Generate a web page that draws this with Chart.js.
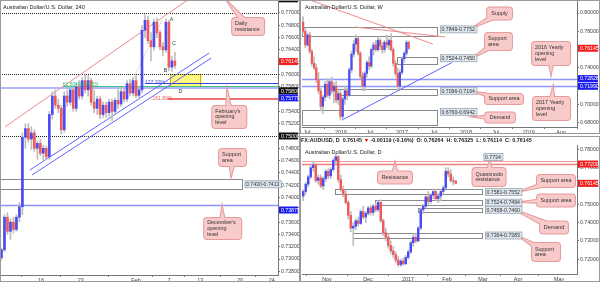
<!DOCTYPE html>
<html><head><meta charset="utf-8">
<script src="https://cdn.jsdelivr.net/npm/chart.js@4.4.1/dist/chart.umd.min.js"></script>
<style>
html,body{margin:0;padding:0;background:#fff;}
body{width:600px;height:282px;position:relative;overflow:hidden;font-family:"Liberation Sans",Arial,sans-serif;}
canvas{position:absolute;}
.frame{position:absolute;border:1px solid #9a9a9a;box-sizing:border-box;pointer-events:none;}
#hdr{position:absolute;left:301px;top:136px;font-size:5.4px;font-weight:bold;color:#222;white-space:nowrap;line-height:8px;}
</style></head>
<body>
<canvas id="c240" width="299" height="282" style="left:0;top:0"></canvas>
<canvas id="cW" width="299" height="133" style="left:300px;top:0"></canvas>
<canvas id="cD" width="299" height="137" style="left:300px;top:145px"></canvas>
<div class="frame" style="left:0;top:0;width:300px;height:282px"></div>
<div class="frame" style="left:300px;top:0;width:300px;height:134px"></div>
<div class="frame" style="left:300px;top:136px;width:300px;height:146px"></div>
<div id="hdr">FX:AUDUSD, D&nbsp; 0.76145 <span style="color:#d00">&#9660;</span> -0.00119 (-0.16%)&nbsp; O: 0.76264&nbsp; H: 0.76325&nbsp; L: 0.76114&nbsp; C: 0.76145</div>
<script>
// ---------------- DATA ----------------
// H4 candles
const h4Open  = [0.7302,0.7315,0.7368,0.7345,0.7360,0.7348,0.7368,0.7385,0.7498,0.7512,0.7495,0.7505,0.7480,0.7488,0.7472,0.7480,0.7466,0.7535,0.7565,0.7550,0.7545,0.7510,0.7565,0.7555,0.7575,0.7545,0.7580,0.7565,0.7590,0.7575,0.7590,0.7555,0.7545,0.7560,0.7535,0.7550,0.7538,0.7555,0.7540,0.7558,0.7552,0.7572,0.7560,0.7585,0.7570,0.7590,0.7566,0.7575,0.7672,0.7688,0.7655,0.7645,0.7685,0.7668,0.7645,0.7640,0.7685,0.7612,0.7622];
const h4High  = [0.7318,0.7372,0.7375,0.7365,0.7368,0.7372,0.7392,0.7505,0.7520,0.7520,0.7515,0.7510,0.7492,0.7495,0.7485,0.7484,0.7540,0.7572,0.7575,0.7560,0.7550,0.7572,0.7575,0.7580,0.7578,0.7585,0.7590,0.7595,0.7600,0.7598,0.7594,0.7575,0.7565,0.7565,0.7555,0.7555,0.7560,0.7560,0.7562,0.7575,0.7578,0.7580,0.7590,0.7592,0.7595,0.7598,0.7580,0.7680,0.7697,0.7695,0.7668,0.7690,0.7692,0.7672,0.7652,0.7690,0.7688,0.7630,0.7636];
const h4Low   = [0.7298,0.7312,0.7340,0.7332,0.7342,0.7345,0.7360,0.7372,0.7480,0.7490,0.7478,0.7475,0.7462,0.7468,0.7460,0.7463,0.7462,0.7528,0.7545,0.7538,0.7503,0.7506,0.7548,0.7550,0.7540,0.7540,0.7560,0.7560,0.7570,0.7565,0.7550,0.7538,0.7535,0.7528,0.7530,0.7530,0.7532,0.7525,0.7535,0.7545,0.7548,0.7555,0.7556,0.7565,0.7565,0.7562,0.7560,0.7570,0.7660,0.7650,0.7622,0.7640,0.7660,0.7640,0.7630,0.7636,0.7606,0.7605,0.7610];
const h4Close = [0.7315,0.7368,0.7345,0.7360,0.7348,0.7368,0.7385,0.7498,0.7512,0.7495,0.7505,0.7480,0.7488,0.7472,0.7480,0.7466,0.7535,0.7565,0.7550,0.7545,0.7510,0.7565,0.7555,0.7575,0.7545,0.7580,0.7565,0.7590,0.7575,0.7590,0.7555,0.7545,0.7560,0.7535,0.7550,0.7538,0.7555,0.7540,0.7558,0.7552,0.7572,0.7560,0.7585,0.7570,0.7590,0.7566,0.7575,0.7672,0.7688,0.7655,0.7645,0.7685,0.7668,0.7645,0.7640,0.7685,0.7612,0.7622,0.76145];
const h4XTickPos = [13.2,26.5,45,56,66.5,79.8,90.4];
const h4XTickLbl = ['16','23','Feb','7','13','20','24'];
const h4YTicks = [0.770,0.768,0.766,0.764,0.762,0.760,0.758,0.756,0.754,0.752,0.750,0.748,0.746,0.744,0.742,0.740,0.738,0.736,0.734,0.732,0.730,0.728];

// Weekly candles
const wOpen  = [0.7900,0.7800,0.7650,0.7760,0.7580,0.7450,0.7400,0.7270,0.7150,0.6980,0.7080,0.7220,0.7100,0.7250,0.7150,0.7200,0.7050,0.7120,0.6870,0.7060,0.7150,0.7100,0.7380,0.7550,0.7660,0.7720,0.7560,0.7310,0.7200,0.7340,0.7460,0.7420,0.7600,0.7650,0.7600,0.7700,0.7640,0.7600,0.7680,0.7650,0.7700,0.7600,0.7450,0.7340,0.7200,0.7350,0.7500,0.7560,0.7680];
const wHigh  = [0.7960,0.7830,0.7780,0.7790,0.7600,0.7520,0.7440,0.7350,0.7180,0.7100,0.7250,0.7280,0.7280,0.7300,0.7240,0.7250,0.7150,0.7160,0.7080,0.7200,0.7180,0.7400,0.7580,0.7700,0.7760,0.7740,0.7580,0.7350,0.7360,0.7480,0.7520,0.7620,0.7680,0.7700,0.7740,0.7720,0.7680,0.7700,0.7760,0.7720,0.7775,0.7620,0.7480,0.7400,0.7380,0.7520,0.7580,0.7700,0.7690];
const wLow   = [0.7780,0.7620,0.7640,0.7560,0.7420,0.7380,0.7240,0.7120,0.6930,0.6900,0.7040,0.7080,0.7060,0.7120,0.7020,0.7020,0.7000,0.6830,0.6840,0.7000,0.7050,0.7090,0.7350,0.7520,0.7580,0.7540,0.7280,0.7150,0.7150,0.7300,0.7380,0.7400,0.7540,0.7580,0.7580,0.7600,0.7560,0.7570,0.7620,0.7600,0.7580,0.7420,0.7310,0.7160,0.7170,0.7330,0.7460,0.7540,0.7600];
const wClose = [0.7800,0.7650,0.7760,0.7580,0.7450,0.7400,0.7270,0.7150,0.6980,0.7080,0.7220,0.7100,0.7250,0.7150,0.7200,0.7050,0.7120,0.6870,0.7060,0.7150,0.7100,0.7380,0.7550,0.7660,0.7720,0.7560,0.7310,0.7200,0.7340,0.7460,0.7420,0.7600,0.7650,0.7600,0.7700,0.7640,0.7600,0.7680,0.7650,0.7700,0.7600,0.7450,0.7340,0.7200,0.7350,0.7500,0.7560,0.7680,0.76145];
const wXTickPos = [1.8,17.2,30.4,45,59.5,74,87.6,102.6,117.2];
const wXTickLbl = ['Jul','2016','Jul','2017','Jul','2018','Jul','2019','Aug'];
const wYTicks = [0.80,0.78,0.76,0.74,0.72,0.70,0.68];

// Daily candles
const dOpen  = [0.7545,0.7570,0.7610,0.7650,0.7700,0.7715,0.7630,0.7645,0.7600,0.7640,0.7680,0.7655,0.7690,0.7740,0.7760,0.7635,0.7580,0.7555,0.7510,0.7440,0.7370,0.7380,0.7410,0.7395,0.7460,0.7430,0.7450,0.7480,0.7455,0.7490,0.7470,0.7510,0.7410,0.7345,0.7320,0.7275,0.7245,0.7225,0.7195,0.7170,0.7190,0.7175,0.7210,0.7240,0.7290,0.7320,0.7300,0.7370,0.7470,0.7490,0.7540,0.7515,0.7550,0.7570,0.7530,0.7545,0.7570,0.7590,0.7680,0.7665,0.7630,0.7626];
const dHigh  = [0.7580,0.7620,0.7660,0.7720,0.7735,0.7725,0.7660,0.7660,0.7650,0.7690,0.7695,0.7700,0.7750,0.7775,0.7765,0.7660,0.7600,0.7580,0.7520,0.7460,0.7400,0.7420,0.7430,0.7470,0.7490,0.7460,0.7490,0.7495,0.7500,0.7510,0.7520,0.7525,0.7420,0.7370,0.7340,0.7300,0.7270,0.7240,0.7215,0.7200,0.7205,0.7220,0.7250,0.7300,0.7340,0.7340,0.7380,0.7480,0.7500,0.7550,0.7570,0.7560,0.7585,0.7580,0.7560,0.7580,0.7600,0.7700,0.7700,0.7690,0.7650,0.7632];
const dLow   = [0.7520,0.7555,0.7595,0.7640,0.7680,0.7620,0.7610,0.7590,0.7580,0.7625,0.7640,0.7640,0.7680,0.7720,0.7620,0.7570,0.7540,0.7500,0.7420,0.7350,0.7275,0.7360,0.7380,0.7390,0.7420,0.7400,0.7440,0.7440,0.7440,0.7460,0.7460,0.7400,0.7330,0.7300,0.7260,0.7230,0.7210,0.7180,0.7160,0.7160,0.7165,0.7170,0.7200,0.7230,0.7270,0.7290,0.7295,0.7360,0.7450,0.7480,0.7500,0.7505,0.7530,0.7520,0.7510,0.7520,0.7555,0.7585,0.7650,0.7620,0.7605,0.7611];
const dClose = [0.7570,0.7610,0.7650,0.7700,0.7715,0.7630,0.7645,0.7600,0.7640,0.7680,0.7655,0.7690,0.7740,0.7760,0.7635,0.7580,0.7555,0.7510,0.7440,0.7370,0.7380,0.7410,0.7395,0.7460,0.7430,0.7450,0.7480,0.7455,0.7490,0.7470,0.7510,0.7410,0.7345,0.7320,0.7275,0.7245,0.7225,0.7195,0.7170,0.7190,0.7175,0.7210,0.7240,0.7290,0.7320,0.7300,0.7370,0.7470,0.7490,0.7540,0.7515,0.7550,0.7570,0.7530,0.7545,0.7570,0.7590,0.7680,0.7665,0.7630,0.7626,0.76145];
const dXTickPos = [9.5,25.9,41.9,57.5,71.9,85.9,102.3];
const dXTickLbl = ['Nov','Dec','2017','Feb','Mar','Apr','May'];
const dYTicks = [0.78,0.77,0.76,0.75,0.74,0.73,0.72];

// Levels
const h4Dotted = [0.7700,0.7600,0.7500];
const h4FebOpen = 0.75779, h4DecOpen = 0.73879;
const h4Fib = [0.7582,0.7586,0.7560];        // 61.8%, 127.2%, 161.8%
const h4Zone = [0.7600,0.7579];
const h4Support = [0.7430,0.7413];
const wSupply = [0.7849,0.7752], wSupport1 = [0.7524,0.7450], wSupport2 = [0.7164,0.7096], wDemand = [0.6942,0.6776];
const wYearOpen = [0.72828,0.71990];
const dRes = [0.7734,0.7720];
const dZones = [[0.7581,0.7552],[0.7524,0.7494],[0.7482,0.7462],[0.7343,0.7316]];
const lastPrice = 0.76145;

// ---------------- RENDER ----------------
Chart.defaults.font.family = '"Liberation Sans", Arial, sans-serif';
Chart.defaults.font.size = 5.4;
Chart.defaults.color = '#555';
Chart.defaults.animation = false;

const SPECS = {};
const PX = (c,v)=>c.scales.x.getPixelForValue(v);
const PY = (c,v)=>c.scales.y.getPixelForValue(v);

function drawCallout(ctx, c, s){
  const X = PX(c,s.cx), Y = PY(c,s.cy), TX = PX(c,s.tx), TY = PY(c,s.ty);
  const x0 = X - s.w/2, y0 = Y - s.h/2;
  const dx = TX-X, dy = TY-Y, len = Math.hypot(dx,dy)||1;
  const nx = -dy/len, ny = dx/len, bw = 3;
  const k = Math.min(s.w,s.h)*0.25;
  const bx = X + dx/len*k, by = Y + dy/len*k;
  const tri = ()=>{ctx.beginPath();ctx.moveTo(bx+nx*bw,by+ny*bw);ctx.lineTo(TX,TY);ctx.lineTo(bx-nx*bw,by-ny*bw);ctx.closePath();};
  const box = ()=>{ctx.beginPath(); if(ctx.roundRect) ctx.roundRect(x0,y0,s.w,s.h,3); else ctx.rect(x0,y0,s.w,s.h);};
  ctx.lineWidth = 2; ctx.strokeStyle = '#e69a9a';
  tri(); ctx.stroke(); box(); ctx.stroke();
  ctx.fillStyle = '#f8caca';
  tri(); ctx.fill(); box(); ctx.fill();
  ctx.fillStyle = '#333'; ctx.font = '5.4px "Liberation Sans", Arial, sans-serif';
  ctx.textBaseline = 'middle';
  const lh = 5.6, n = s.lines.length;
  s.lines.forEach((t,i)=>{
    const yy = Y + (i-(n-1)/2)*lh;
    if(s.center){ctx.textAlign='center'; ctx.fillText(t, X, yy);} else {ctx.textAlign='left'; ctx.fillText(t, x0+3, yy);}
  });
}

const overlay = {
  id:'overlay',
  beforeDatasetsDraw(chart){
    const s = SPECS[chart.canvas.id]; if(!s) return;
    const ctx = chart.ctx, a = chart.chartArea;
    ctx.save(); ctx.beginPath(); ctx.rect(a.left,a.top,a.right-a.left,a.bottom-a.top); ctx.clip();
    (s.boxes||[]).forEach(b=>{
      const x0 = b.x0==null?a.left:PX(chart,b.x0), x1 = b.x1==null?a.right:PX(chart,b.x1);
      const ya = PY(chart,b.y0), yb = PY(chart,b.y1);
      const top = Math.round(Math.min(ya,yb)), h = Math.max(1,Math.round(Math.abs(yb-ya)));
      if(b.fill){ctx.fillStyle=b.fill; ctx.fillRect(x0,top,x1-x0,h);}
      if(b.stroke){ctx.strokeStyle=b.stroke; ctx.lineWidth=1; ctx.strokeRect(Math.round(x0)+0.5,top+0.5,Math.round(x1-x0)-1,h);}
    });
    (s.lines||[]).forEach(l=>{
      const x0 = l.x0==null?a.left:PX(chart,l.x0), x1 = l.x1==null?a.right:PX(chart,l.x1);
      let y0 = PY(chart,l.y0), y1 = PY(chart,l.y1==null?l.y0:l.y1);
      if(l.y1==null){y0 = Math.round(y0)+ (l.w%2?0.5:0); y1=y0;}
      ctx.beginPath(); ctx.strokeStyle=l.color; ctx.lineWidth=l.w||1; ctx.setLineDash(l.dash||[]);
      ctx.moveTo(x0,y0); ctx.lineTo(x1,y1); ctx.stroke();
    });
    ctx.setLineDash([]);
    ctx.restore();
  },
  afterDatasetsDraw(chart){
    const s = SPECS[chart.canvas.id]; if(!s) return;
    const ctx = chart.ctx, a = chart.chartArea;
    ctx.save();
    (s.texts||[]).forEach(t=>{
      ctx.font = (t.bold?'bold ':'')+(t.size||5.4)+'px "Liberation Sans", Arial, sans-serif';
      ctx.fillStyle = t.color||'#333'; ctx.textAlign = t.align||'left'; ctx.textBaseline='middle';
      ctx.fillText(t.text, PX(chart,t.x), PY(chart,t.y));
    });
    // title
    ctx.font = '5.6px "Liberation Sans", Arial, sans-serif'; ctx.fillStyle='#222'; ctx.textAlign='left'; ctx.textBaseline='middle';
    ctx.fillText(s.title, a.left+3, a.top+7);
    (s.callouts||[]).forEach(c=>drawCallout(ctx,chart,c));
    // box labels (value tags)
    (s.tags||[]).forEach(t=>{
      ctx.font = '5.2px "Liberation Sans", Arial, sans-serif';
      const x = PX(chart,t.x), y = PY(chart,t.y), w = ctx.measureText(t.text).width+3;
      ctx.fillStyle='#dde5ee'; ctx.fillRect(x, y-3.5, w, 7);
      ctx.strokeStyle='#9aa6b4'; ctx.lineWidth=0.8; ctx.strokeRect(x+0.5, y-3.5, w, 7);
      ctx.fillStyle='#333'; ctx.textAlign='left'; ctx.textBaseline='middle'; ctx.fillText(t.text, x+1.5, y+0.3);
    });
    // axis price labels
    (s.axisTags||[]).forEach(t=>{
      const y = PY(chart,t.at);
      ctx.fillStyle = t.bg; ctx.fillRect(a.right+1, y-3.5, chart.width-a.right-2, 7);
      ctx.font = '5.2px "Liberation Sans", Arial, sans-serif';
      ctx.fillStyle = '#fff'; ctx.textAlign='left'; ctx.textBaseline='middle';
      ctx.fillText(t.text, a.right+3, y+0.3);
    });
    ctx.restore();
  }
};
Chart.register(overlay);

function candleSets(o,h,l,c,bodyW){
  const wick = o.map((_,i)=>({x:i, y:[l[i],h[i]]}));
  const body = o.map((_,i)=>({x:i, y:[o[i],c[i]]}));
  const col = o.map((_,i)=> c[i]>=o[i] ? '#4b4bf2' : '#ef5a5a');
  return [
    {type:'bar', data:wick, backgroundColor:'#bdbdbd', barThickness:1, grouped:false, order:2},
    {type:'bar', data:body, backgroundColor:col, barThickness:bodyW, grouped:false, order:1}
  ];
}

function makeChart(id, sets, xr, yr, xPos, xLbl, yTicks, yDec, yW, xH, padL){
  return new Chart(document.getElementById(id), {
    type:'bar',
    data:{datasets:sets},
    options:{
      responsive:false, devicePixelRatio:1, animation:false,
      layout:{padding:{left:padL,right:0,top:0,bottom:0}},
      plugins:{legend:{display:false}, tooltip:{enabled:false}},
      scales:{
        x:{type:'linear', min:xr[0], max:xr[1], offset:false,
          grid:{drawOnChartArea:false, drawTicks:true, tickLength:2, color:'#777'},
          border:{display:true, color:'#777'},
          afterBuildTicks:sc=>{sc.ticks = xPos.map(v=>({value:v}));},
          afterFit:sc=>{sc.height = xH; sc.paddingLeft=0; sc.paddingRight=0;},
          ticks:{autoSkip:false, maxRotation:0, padding:0, color:'#444', font:{size:5.4},
            callback:(v,i)=>xLbl[i]}},
        y:{type:'linear', position:'right', min:yr[0], max:yr[1],
          grid:{drawOnChartArea:false, drawTicks:true, tickLength:2, color:'#777'},
          border:{display:true, color:'#777'},
          afterBuildTicks:sc=>{sc.ticks = yTicks.map(v=>({value:v}));},
          afterFit:sc=>{sc.width = yW; sc.paddingTop=0; sc.paddingBottom=0;},
          ticks:{padding:1, color:'#444', font:{size:5.2}, callback:v=>v.toFixed(yDec)}}
      }
    }
  });
}

// ----- H4 panel specs -----
SPECS.c240 = {
  title:'Australian Dollar/U.S. Dollar, 240',
  boxes:[
    {x0:-0.5, x1:80.8, y0:h4Support[0], y1:h4Support[1], stroke:'#8a8a8a', fill:'rgba(255,255,255,0.6)'},
    {x0:56.5, x1:67, y0:h4Zone[0], y1:h4Zone[1], stroke:'#cdb700', fill:'#fdf77c'}
  ],
  lines:[
    {y0:h4Dotted[0], color:'#222', w:1, dash:[1,1]},
    {y0:h4Dotted[1], color:'#222', w:1, dash:[1,1]},
    {y0:h4Dotted[2], color:'#222', w:1, dash:[1,1]},
    {y0:h4FebOpen, color:'#b3b8fb', w:2},
    {y0:h4DecOpen, color:'#8c95ff', w:1.5},
    {x0:20.5, y0:h4Fib[0], color:'#3cc77a', w:1},
    {x0:48, y0:h4Fib[1], color:'#3b46d6', w:1},
    {x0:55.5, y0:h4Fib[2], color:'#ea7272', w:2},
    {x0:1.2, y0:0.7515, x1:64, y1:0.7727, color:'#f08a8a', w:1},
    {x0:9.5, y0:0.74447, x1:69.5, y1:0.7635, color:'#6262ff', w:1},
    {x0:10.2, y0:0.74366, x1:70.2, y1:0.76268, color:'#6262ff', w:1},
    {x0:43.8, y0:0.7591, x1:53.8, y1:0.7689, color:'#999', w:0.8, dash:[1,1.5]}
  ],
  texts:[
    {x:20.5, y:0.75835, text:'61.80%(0.7583)', color:'#35c07a', size:5},
    {x:48, y:0.7587, text:'127.20%', color:'#3b46d6', size:5},
    {x:50.5, y:0.7561, text:'161.80%', color:'#e35b5b', size:5},
    {x:56.3, y:0.7690, text:'A', color:'#333', size:5.4},
    {x:54.3, y:0.7607, text:'B', color:'#333', size:5.4},
    {x:57.0, y:0.7651, text:'C', color:'#333', size:5.4},
    {x:59.2, y:0.7573, text:'D', color:'#333', size:5.4}
  ],
  callouts:[
    {cx:82.5, cy:0.7678, w:32, h:17, tx:75.2, ty:0.7721, lines:['Daily','resistance']},
    {cx:76.2, cy:0.75309, w:34, h:22, tx:75.5, ty:0.75748, lines:["February's",'opening','level']},
    {cx:77.3, cy:0.7465, w:27, h:17, tx:76.8, ty:0.7435, lines:['Support','area']},
    {cx:74.0, cy:0.73496, w:37, h:21, tx:73.8, ty:0.73846, lines:["December's",'opening','level']}
  ],
  tags:[{x:81.3, y:0.74215, text:'0.7430-0.7413'}],
  axisTags:[
    {at:0.7723, text:'0.77200', bg:'#111'},
    {at:0.7621, text:'0.76145', bg:'#f21d1d'},
    {at:0.75735, text:'0.75800', bg:'#111'},
    {at:0.75620, text:'0.75779', bg:'#1b1bf0'},
    {at:0.7500, text:'0.75000', bg:'#111'},
    {at:0.73797, text:'0.73879', bg:'#1b1bf0'}
  ]
};
makeChart('c240', candleSets(h4Open,h4High,h4Low,h4Close,2), [-0.5,92.5], [0.7274,0.77211],
  h4XTickPos, h4XTickLbl, h4YTicks, 5, 21, 7, 0);

// ----- Weekly panel specs -----
SPECS.cW = {
  title:'Australian Dollar/U.S. Dollar, W',
  boxes:[
    {x0:-0.5, x1:61.3, y0:wSupply[0], y1:wSupply[1], stroke:'#8a8a8a'},
    {x0:42.7, x1:61.3, y0:wSupport1[0], y1:wSupport1[1], stroke:'#8a8a8a'},
    {x0:13.6, x1:61.3, y0:wSupport2[0], y1:wSupport2[1], stroke:'#8a8a8a'},
    {x0:-0.5, x1:61.3, y0:wDemand[0], y1:wDemand[1], stroke:'#8a8a8a'}
  ],
  lines:[
    {y0:wYearOpen[0], color:'#8c95ff', w:1.5},
    {y0:wYearOpen[1], color:'#8c95ff', w:1.5},
    {x0:3.1, y0:0.8142, x1:59, y1:0.7661, color:'#f08a8a', w:1},
    {x0:23.6, y0:0.7847, x1:64.5, y1:0.7738, color:'#f08a8a', w:1},
    {x0:17.7, y0:0.68306, x1:67.7, y1:0.7459, color:'#6262ff', w:1}
  ],
  texts:[],
  callouts:[
    {cx:89.3, cy:0.79945, w:25, h:12, tx:77.7, ty:0.7847, lines:['Supply'], center:true},
    {cx:88.8, cy:0.76885, w:27, h:17, tx:77.7, ty:0.7519, lines:['Support','area']},
    {cx:112.7, cy:0.75574, w:38, h:23, tx:112.7, ty:0.7333, lines:['2016 Yearly','opening','level']},
    {cx:112.9, cy:0.69563, w:37, h:23, tx:113.6, ty:0.71913, lines:['2017 Yearly','opening','level']},
    {cx:91.3, cy:0.7060, w:38, h:10, tx:77.7, ty:0.71366, lines:['Support area'], center:true},
    {cx:89.5, cy:0.68579, w:30, h:10, tx:77.7, ty:0.68634, lines:['Demand'], center:true}
  ],
  tags:[
    {x:62.2, y:0.7821, text:'0.7849-0.7752'},
    {x:62.2, y:0.7506, text:'0.7524-0.7450'},
    {x:62.2, y:0.7150, text:'0.7096-0.7164'},
    {x:62.2, y:0.6920, text:'0.6760-0.6942'}
  ],
  axisTags:[
    {at:lastPrice, text:'0.76145', bg:'#f21d1d'},
    {at:wYearOpen[0], text:'0.72828', bg:'#1b1bf0'},
    {at:wYearOpen[1], text:'0.71990', bg:'#1b1bf0'}
  ]
};
makeChart('cW', candleSets(wOpen,wHigh,wLow,wClose,1.6), [-0.5,124.5], [0.67541,0.81421],
  wXTickPos, wXTickLbl, wYTicks, 5, 22, 6, 2);

// ----- Daily panel specs -----
SPECS.cD = {
  title:'Australian Dollar/U.S. Dollar, D',
  boxes:[
    {x0:12.7, x1:71.9, y0:dZones[0][0], y1:dZones[0][1], stroke:'#8a8a8a'},
    {x0:28.7, x1:71.9, y0:dZones[1][0], y1:dZones[1][1], stroke:'#8a8a8a'},
    {x0:45.9, x1:71.9, y0:dZones[2][0], y1:dZones[2][1], stroke:'#8a8a8a'},
    {x0:19.9, x1:71.9, y0:dZones[3][0], y1:dZones[3][1], stroke:'#8a8a8a'}
  ],
  lines:[
    {y0:dRes[0], color:'#f4a0a0', w:1},
    {y0:dRes[1], color:'#f07d7d', w:1.5}
  ],
  texts:[],
  callouts:[
    {cx:36.7, cy:0.76464, w:34, h:12, tx:36.7, ty:0.77257, lines:['Resistance'], center:true},
    {cx:74.3, cy:0.76492, w:33, h:18, tx:74.7, ty:0.7742, lines:['Quasimodo','resistance']},
    {cx:101.1, cy:0.76273, w:38, h:12, tx:87.1, ty:0.75727, lines:['Support area'], center:true},
    {cx:101.1, cy:0.75208, w:38, h:12, tx:87.1, ty:0.75126, lines:['Support area'], center:true},
    {cx:100.3, cy:0.73732, w:28, h:12, tx:84.7, ty:0.74689, lines:['Demand'], center:true},
    {cx:97.1, cy:0.72393, w:28, h:18, tx:86.7, ty:0.73213, lines:['Support','area']}
  ],
  tags:[
    {x:72.1, y:0.7758, text:'0.7734'},
    {x:72.7, y:0.75665, text:'0.7581-0.7552'},
    {x:72.7, y:0.7509, text:'0.7524-0.7494'},
    {x:72.7, y:0.7470, text:'0.7458-0.7460'},
    {x:72.7, y:0.73295, text:'0.7364-0.7383'}
  ],
  axisTags:[
    {at:dRes[1], text:'0.77200', bg:'#f21d1d'},
    {at:lastPrice, text:'0.76145', bg:'#f21d1d'}
  ]
};
makeChart('cD', candleSets(dOpen,dHigh,dLow,dClose,1.8), [-0.5,109.5], [0.71191,0.7824],
  dXTickPos, dXTickLbl, dYTicks, 5, 22, 8, 2);
</script>
</body></html>
